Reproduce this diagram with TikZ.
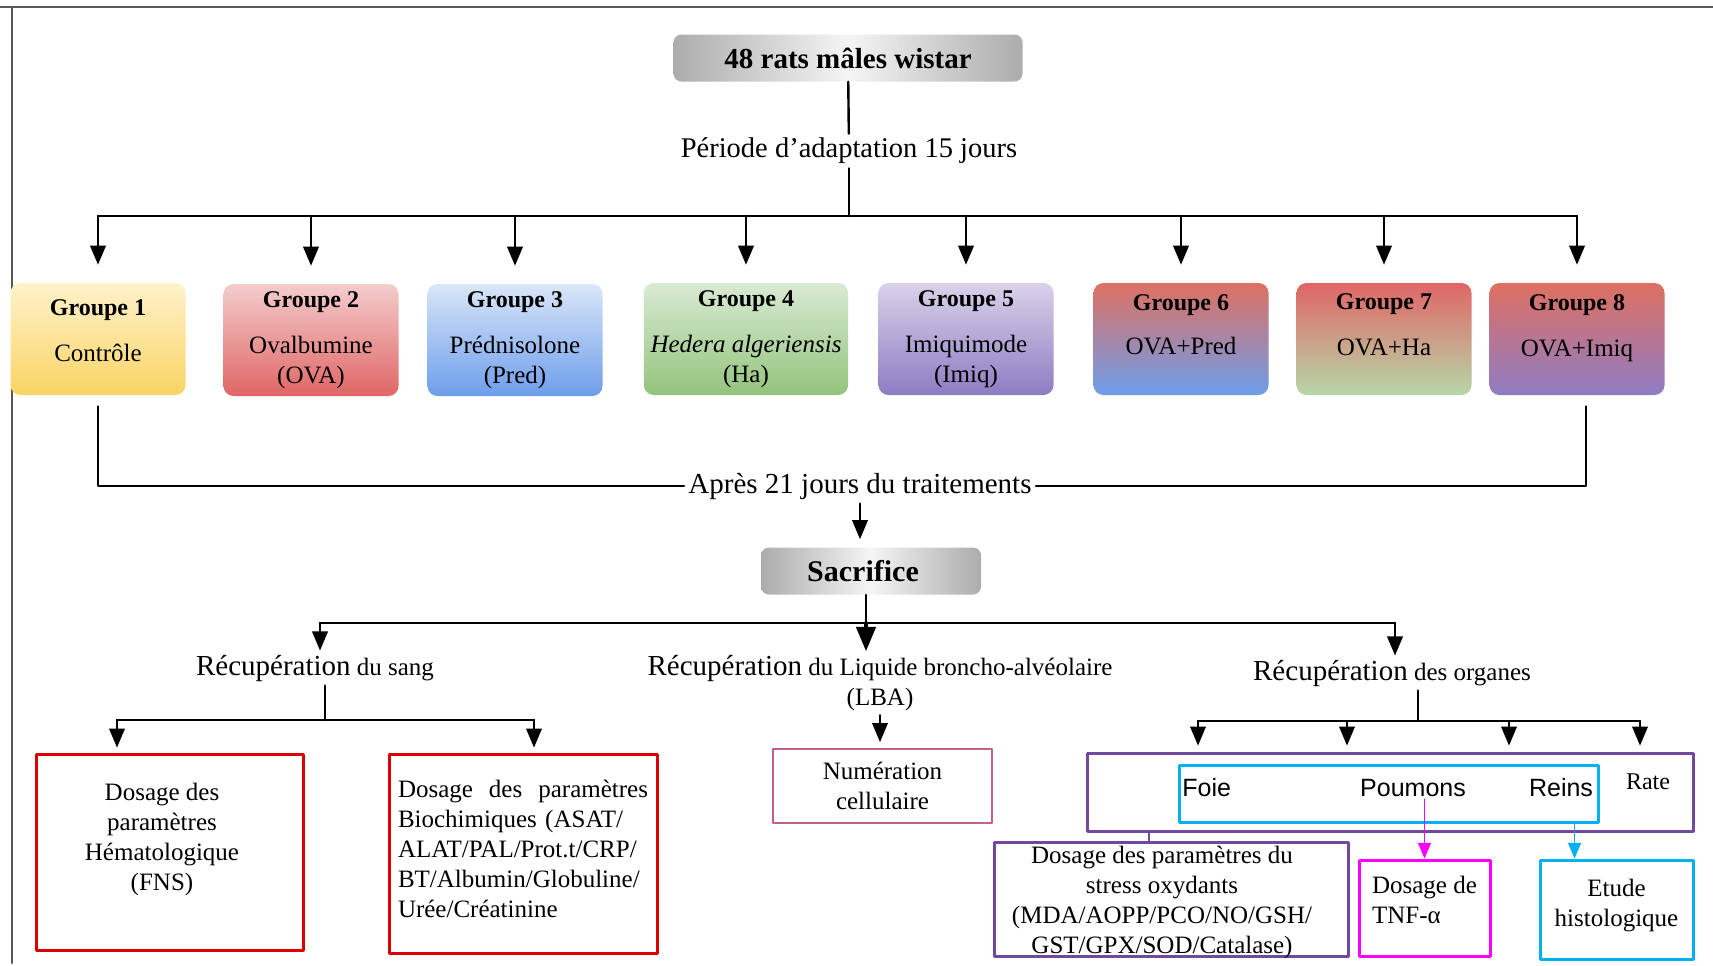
\documentclass[tikz,border=0pt]{standalone}
\usepackage{fontspec}
\setmainfont{Liberation Serif}
\newfontfamily\arialf{Liberation Sans}
\usepackage{tikz}
\usetikzlibrary{arrows}
\definecolor{jaunehaut}{RGB}{255,242,204}
\definecolor{jaunebas}{RGB}{249,212,100}
\definecolor{rosehaut}{RGB}{244,204,204}
\definecolor{rougebas}{RGB}{224,102,102}
\definecolor{bleuhaut}{RGB}{218,230,248}
\definecolor{bleubas}{RGB}{109,158,235}
\definecolor{verthaut}{RGB}{217,234,211}
\definecolor{vertbas}{RGB}{147,196,125}
\definecolor{lilashaut}{RGB}{217,210,233}
\definecolor{lilasbas}{RGB}{142,124,195}
\definecolor{saumon}{RGB}{222,112,98}
\definecolor{vertpale}{RGB}{182,215,168}
\definecolor{rougecadre}{RGB}{222,0,0}
\definecolor{mauvecadre}{RGB}{192,96,140}
\definecolor{violetcadre}{RGB}{112,72,160}
\definecolor{cyancadre}{RGB}{0,176,240}
\definecolor{magentacadre}{RGB}{255,0,255}

\begin{document}
\begin{tikzpicture}[line cap=round,line join=round,>=triangle 45,x=0.5pt,y=-0.5pt,
    grp/.style={rounded corners=5pt,minimum width=87.5pt,minimum height=56pt,align=center,font=\fontsize{12.5}{15}\selectfont},
    gris/.style={rounded corners=4pt,left color=gray!65,right color=gray!65,middle color=gray!8,font=\fontsize{14.5}{17}\selectfont\bfseries},
    txt/.style={font=\fontsize{12.5}{15}\selectfont,align=center,inner sep=2pt},
    lien/.style={line width=1.2pt},
    boite/.style={line width=1.5pt,align=center,font=\fontsize{12.5}{15}\selectfont,inner sep=0pt}]
      \useasboundingbox (0.,0.) rectangle (1713.,965.);
      \draw [line width=1pt,gray!70!black] (0.,7.) -- (1713.,7.);
      \draw [line width=1pt,gray!70!black] (12.,7.) -- (12.,963.);
      % depart
      \node[gris,minimum width=174.5pt,minimum height=23.5pt] (rats) at (848.,58.) {48 rats mâles wistar};
      \node[txt,font=\fontsize{14.25}{17}\selectfont] (adapt) at (849.,151.) {Période d’adaptation 15 jours};
      \coordinate (barre) at (857.,216.);
      \draw [lien] (rats) -- (adapt);
      \draw [lien] (adapt) -- (adapt |- barre);
      % groupes
      \node[grp,top color=jaunehaut,bottom color=jaunebas] (g1) at (98.,339.) {\textbf{\fontsize{12}{14}\selectfont Groupe 1}\\[8pt]Contrôle\rule[-8.5pt]{0pt}{0pt}};
      \node[grp,top color=rosehaut,bottom color=rougebas] (g2) at (311.,340.) {\textbf{\fontsize{12}{14}\selectfont Groupe 2}\\[8pt]Ovalbumine\\(OVA)};
      \node[grp,top color=bleuhaut,bottom color=bleubas] (g3) at (515.,340.) {\textbf{\fontsize{12}{14}\selectfont Groupe 3}\\[8pt]Prédnisolone\\(Pred)};
      \node[grp,top color=verthaut,bottom color=vertbas,minimum width=102pt] (g4) at (746.,339.) {\textbf{\fontsize{12}{14}\selectfont Groupe 4}\\[8pt]\textit{Hedera algeriensis}\\(Ha)};
      \node[grp,top color=lilashaut,bottom color=lilasbas] (g5) at (966.,339.) {\textbf{\fontsize{12}{14}\selectfont Groupe 5}\\[8pt]Imiquimode\\(Imiq)};
      \node[grp,top color=saumon,bottom color=bleubas] (g6) at (1181.,339.) {\textbf{\fontsize{12}{14}\selectfont Groupe 6}\\[7pt]OVA+Pred\rule[-14pt]{0pt}{0pt}};
      \node[grp,top color=rougebas,bottom color=vertpale] (g7) at (1384.,339.) {\textbf{\fontsize{12}{14}\selectfont Groupe 7}\\[8pt]OVA+Ha\rule[-14pt]{0pt}{0pt}};
      \node[grp,top color=saumon,bottom color=lilasbas] (g8) at (1577.,339.) {\textbf{\fontsize{12}{14}\selectfont Groupe 8}\\[8pt]OVA+Imiq\rule[-13pt]{0pt}{0pt}};
      \draw [lien] (barre -| g1) -- (barre -| g8);
      \foreach \i in {1,...,8}
        \draw [lien,->,shorten >=9pt] (barre -| g\i) -- (g\i.north);
      % traitement
      \node[txt,font=\fontsize{14.5}{17}\selectfont] (apres) at (860.,486.) {Après 21 jours du traitements};
      \draw [lien] (g1.south) ++(0.,11.) |- (apres.west);
      \draw [lien] (g8.south) ++(9.,11.) |- (apres.east);
      \node[gris,minimum width=110pt,minimum height=23.5pt,font=\fontsize{15}{18}\selectfont\bfseries] (sac) at (871.,571.) {Sacrifice\hspace*{8pt}};
      \draw [lien,->,shorten >=4pt] (apres.south) -- (apres.south |- sac.north);
      % recuperations
      \coordinate (fourche) at (866.,623.);
      \coordinate (r1) at (320.,623.);
      \coordinate (r2) at (1395.,623.);
      \node[txt] (sang) at (315.,668.) {{\fontsize{14.5}{17}\selectfont Récupération} du sang};
      \node[txt] (lba) at (880.,683.) {{\fontsize{14.5}{17}\selectfont Récupération} du Liquide broncho-alvéolaire\\(LBA)};
      \node[txt] (org) at (1392.,673.) {{\fontsize{14.5}{17}\selectfont Récupération} des organes};
      \draw [lien] (sac.south -| fourche) -- (fourche);
      \draw [line width=1.8pt,->] (fourche) -- (fourche |- lba.north);
      \draw [lien] (r1) -- (r2);
      \draw [lien,->] (r1) -- (r1 |- sang.north);
      \draw [lien,->] (r2) -- (r2 |- org.north);
      % sang
      \node[boite,draw=rougecadre,minimum width=133.5pt,minimum height=98pt] (hemato) at (169.5,852.) {};
      \node[txt] (hematotxt) at (162.,839.) {Dosage des\\paramètres\\Hématologique\\(FNS)};
      \node[boite,draw=rougecadre,minimum width=134pt,minimum height=99.5pt,align=left,text width=125pt] (bio) at (523.,853.5) {\hbox to 125pt{Dosage\hfill des\hfill paramètres}\\Biochimiques (ASAT/\\ALAT/PAL/Prot.t/CRP/\\BT/Albumin/Globuline/\\Urée/Créatinine\rule[-5pt]{0pt}{0pt}};
      \coordinate (sang0) at (325.,720.);
      \coordinate (s1) at (117.,720.);
      \coordinate (s2) at (534.,720.);
      \draw [lien] (sang.south -| sang0) -- (sang0);
      \draw [lien] (s1) -- (s2);
      \draw [lien,->,shorten >=2.5pt] (s1) -- (s1 |- hemato.north);
      \draw [lien,->,shorten >=2.5pt] (s2) -- (s2 |- bio.north);
      % LBA
      \node[boite,draw=mauvecadre,line width=1pt,minimum width=109.5pt,minimum height=37pt] (num) at (882.5,786.) {Numération\\cellulaire};
      \draw [lien,->,shorten >=3pt] (lba.south) -- (lba.south |- num.north);
      % organes
      \node[boite,draw=violetcadre,minimum width=303pt,minimum height=39pt] (organes) at (1390.,792.) {};
      \node[boite,draw=cyancadre,minimum width=209.5pt,minimum height=28.5pt] (cible) at (1388.5,793.5) {};
      \node[anchor=west,inner sep=1pt,font=\arialf\fontsize{12.5}{15}\selectfont] (foie) at (1180.,788.) {Foie};
      \node[inner sep=1pt,font=\arialf\fontsize{12.5}{15}\selectfont] (poumons) at (1413.,788.) {Poumons};
      \node[inner sep=1pt,font=\arialf\fontsize{12.5}{15}\selectfont] (reins) at (1561.,788.) {Reins};
      \node[inner sep=1pt,font=\fontsize{12}{14}\selectfont] (rate) at (1648.,782.) {Rate};
      \coordinate (o0) at (1418.,721.);
      \coordinate (o1) at (1198.,721.);
      \coordinate (o2) at (1347.,721.);
      \coordinate (o3) at (1509.,721.);
      \coordinate (o4) at (1640.,721.);
      \draw [lien] (org.south -| o0) -- (o0);
      \draw [lien] (o1) -- (o4);
      \foreach \k in {1,...,4}
        \draw [lien,->,shorten >=3pt] (o\k) -- (o\k |- organes.north);
      \node[boite,draw=violetcadre,minimum width=177pt,minimum height=57pt] (stress) at (1171.,899.) {};
      \node[txt] (stresstxt) at (1162.,902.) {Dosage des paramètres du\\stress oxydants\\(MDA/AOPP/PCO/NO/GSH/\\GST/GPX/SOD/Catalase)};
      \node[boite,draw=magentacadre,minimum width=65.5pt,minimum height=48pt,align=left] (tnf) at (1424.5,908.) {Dosage de\\TNF-α\rule[-8pt]{0pt}{0pt}};
      \node[boite,draw=cyancadre,minimum width=76.5pt,minimum height=49.5pt] (etude) at (1616.5,909.5) {Etude\\histologique\rule[-7pt]{0pt}{0pt}};
      \coordinate (st0) at ([xshift=-11pt]stress.north);
      \coordinate (et0) at ([xshift=-21pt]etude.north);
      \draw [violetcadre,line width=1pt] (st0 |- organes.south) -- (st0);
      \draw [magentacadre,line width=0.8pt,->] (tnf.north |- poumons.south) -- (tnf.north);
      \draw [cyancadre,line width=0.8pt,->] (et0 |- cible.south) -- (et0);
    \end{tikzpicture}
\end{document}
